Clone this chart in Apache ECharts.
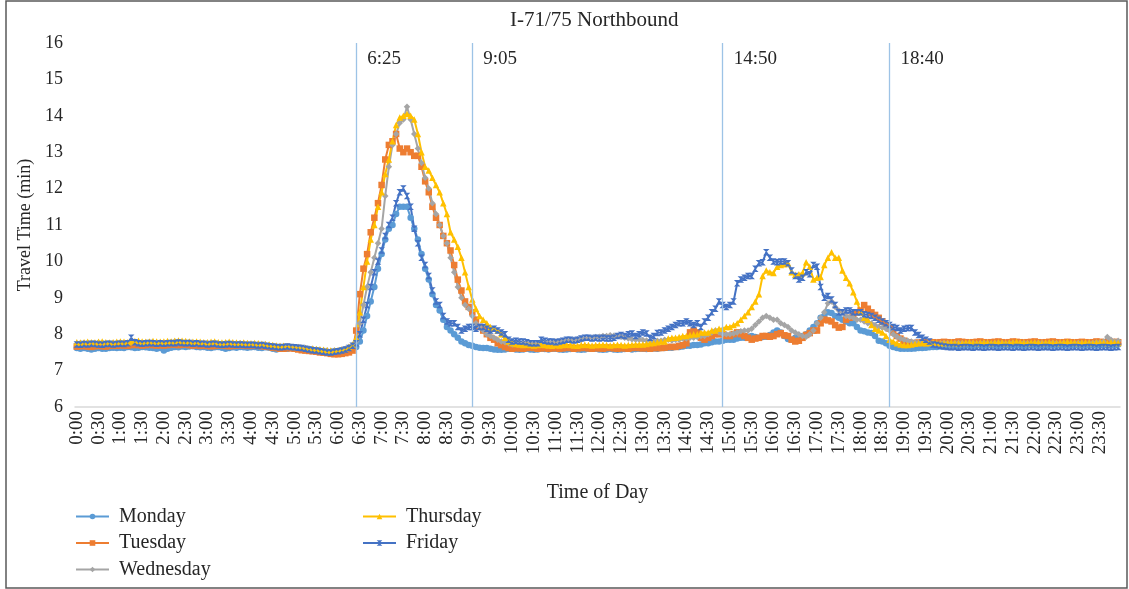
<!DOCTYPE html>
<html>
<head>
<meta charset="utf-8">
<script src="https://cdn.jsdelivr.net/npm/echarts@6/dist/echarts.min.js"></script>
<style>
html, body { margin: 0; padding: 0; background: #fff; }
#main { width: 1129px; height: 589px; }
</style>
</head>
<body>
<div id="main"></div>
<script>
// 5-minute slots, 0:00 .. 23:55
var times = [];
for (var i = 0; i < 288; i++) {
    var m = i * 5;
    times.push(Math.floor(m / 60) + ':' + ('0' + (m % 60)).slice(-2));
}

// travel time (min), one row per hour
var monday = [
    7.62,7.6,7.62,7.6,7.58,7.6,7.62,7.6,7.6,7.62,7.63,7.62,
    7.63,7.62,7.65,7.64,7.62,7.63,7.65,7.64,7.63,7.62,7.6,7.62,
    7.55,7.6,7.63,7.65,7.64,7.66,7.65,7.66,7.67,7.65,7.64,7.65,
    7.63,7.62,7.64,7.65,7.63,7.6,7.62,7.64,7.63,7.65,7.64,7.63,
    7.64,7.65,7.63,7.62,7.64,7.63,7.6,7.58,7.6,7.62,7.6,7.63,
    7.62,7.6,7.58,7.57,7.58,7.56,7.55,7.54,7.52,7.5,7.5,7.52,
    7.53,7.55,7.57,7.6,7.62,7.65,7.8,8.1,8.5,8.9,9.3,9.8,
    10.2,10.6,10.9,11.0,11.3,11.5,11.5,11.5,11.2,10.9,10.6,10.2,
    9.8,9.5,9.1,8.8,8.65,8.4,8.2,8.1,8.0,7.9,7.8,7.75,
    7.7,7.68,7.65,7.63,7.62,7.62,7.6,7.58,7.57,7.57,7.58,7.6,
    7.6,7.58,7.57,7.58,7.6,7.58,7.57,7.58,7.6,7.59,7.58,7.6,
    7.6,7.58,7.57,7.58,7.59,7.6,7.58,7.57,7.58,7.6,7.61,7.6,
    7.58,7.57,7.58,7.6,7.58,7.57,7.58,7.59,7.6,7.58,7.59,7.6,
    7.6,7.59,7.6,7.61,7.6,7.62,7.62,7.63,7.63,7.65,7.65,7.66,
    7.68,7.68,7.7,7.7,7.72,7.75,7.75,7.78,7.8,7.8,7.82,7.85,
    7.85,7.85,7.88,7.9,7.9,7.93,7.95,7.92,7.9,7.92,7.93,7.98,
    8.05,8.1,8.05,7.95,7.87,7.85,7.9,7.93,7.95,8.0,8.1,8.2,
    8.3,8.45,8.5,8.6,8.58,8.5,8.45,8.4,8.35,8.3,8.3,8.2,
    8.1,8.08,8.05,8.03,7.95,7.82,7.8,7.75,7.68,7.65,7.62,7.6,
    7.6,7.6,7.6,7.61,7.62,7.62,7.63,7.64,7.65,7.65,7.66,7.66,
    7.67,7.68,7.68,7.67,7.68,7.7,7.69,7.68,7.7,7.7,7.69,7.7,
    7.7,7.69,7.68,7.7,7.7,7.71,7.7,7.69,7.7,7.68,7.7,7.71,
    7.7,7.69,7.7,7.68,7.7,7.7,7.69,7.7,7.71,7.7,7.69,7.7,
    7.7,7.7,7.69,7.7,7.71,7.7,7.72,7.7,7.73,7.71,7.7,7.72
];
var tuesday = [
    7.66,7.67,7.68,7.66,7.65,7.67,7.68,7.67,7.66,7.68,7.69,7.68,
    7.7,7.69,7.68,7.7,7.71,7.7,7.69,7.7,7.72,7.7,7.69,7.7,
    7.69,7.7,7.72,7.71,7.7,7.71,7.72,7.7,7.69,7.7,7.68,7.69,
    7.68,7.67,7.68,7.69,7.7,7.68,7.67,7.68,7.69,7.7,7.69,7.68,
    7.68,7.69,7.68,7.67,7.66,7.65,7.63,7.62,7.6,7.6,7.62,7.61,
    7.6,7.58,7.56,7.55,7.54,7.53,7.52,7.5,7.49,7.48,7.46,7.45,
    7.45,7.46,7.48,7.5,7.55,8.1,9.1,9.8,10.2,10.8,11.2,11.6,
    12.1,12.8,13.2,13.3,13.5,13.1,13.0,13.1,13.0,12.9,12.9,12.6,
    12.2,11.9,11.5,11.2,11.0,10.7,10.5,10.3,9.9,9.5,9.2,8.9,
    8.75,8.6,8.4,8.2,8.1,8.0,7.9,7.85,7.75,7.7,7.65,7.62,
    7.6,7.62,7.61,7.6,7.62,7.63,7.62,7.6,7.61,7.62,7.6,7.61,
    7.62,7.6,7.61,7.63,7.62,7.6,7.61,7.62,7.63,7.61,7.6,7.62,
    7.61,7.6,7.62,7.63,7.61,7.6,7.62,7.61,7.6,7.62,7.63,7.62,
    7.61,7.62,7.6,7.62,7.62,7.62,7.63,7.65,7.65,7.65,7.68,7.7,
    7.75,8.05,8.1,8.05,7.9,7.85,7.9,7.95,8.0,8.0,8.0,7.95,
    7.95,8.0,8.05,8.0,7.95,7.9,7.85,7.88,7.9,7.95,7.95,7.93,
    7.95,8.0,8.03,7.97,7.95,7.85,7.8,7.82,7.9,7.98,8.03,8.1,
    8.1,8.3,8.4,8.38,8.35,8.25,8.18,8.2,8.4,8.45,8.5,8.6,
    8.65,8.8,8.7,8.6,8.53,8.45,8.35,8.25,8.15,8.05,7.95,7.88,
    7.82,7.78,7.75,7.76,7.77,7.78,7.76,7.77,7.78,7.77,7.78,7.79,
    7.78,7.77,7.78,7.8,7.79,7.78,7.77,7.78,7.79,7.8,7.78,7.77,
    7.78,7.79,7.8,7.78,7.77,7.78,7.8,7.79,7.78,7.77,7.78,7.79,
    7.8,7.78,7.77,7.78,7.79,7.8,7.78,7.77,7.78,7.79,7.78,7.77,
    7.78,7.79,7.78,7.77,7.78,7.8,7.79,7.78,7.77,7.78,7.79,7.78
];
var wednesday = [
    7.74,7.75,7.76,7.75,7.74,7.76,7.77,7.75,7.74,7.76,7.75,7.76,
    7.77,7.76,7.75,7.77,7.78,7.76,7.75,7.77,7.78,7.77,7.76,7.77,
    7.76,7.77,7.78,7.8,7.79,7.78,7.77,7.78,7.76,7.75,7.76,7.75,
    7.74,7.75,7.76,7.74,7.73,7.75,7.74,7.73,7.74,7.75,7.74,7.73,
    7.72,7.73,7.72,7.7,7.71,7.7,7.68,7.67,7.66,7.67,7.66,7.65,
    7.64,7.65,7.63,7.62,7.6,7.6,7.58,7.57,7.56,7.55,7.54,7.55,
    7.55,7.57,7.6,7.65,7.7,7.8,8.3,8.8,9.3,9.7,10.1,10.5,
    10.9,11.8,12.6,13.2,13.5,13.8,13.9,14.25,13.9,13.5,13.1,12.7,
    12.3,12.0,11.6,11.3,11.0,10.7,10.5,10.1,9.7,9.3,9.0,8.8,
    8.7,8.5,8.3,8.2,8.1,8.0,7.95,7.9,7.85,7.8,7.78,7.75,
    7.72,7.73,7.72,7.74,7.75,7.73,7.74,7.75,7.76,7.75,7.77,7.78,
    7.8,7.79,7.82,7.83,7.85,7.84,7.86,7.85,7.88,7.9,7.9,7.92,
    7.93,7.95,7.95,7.97,7.96,7.95,7.93,7.9,7.88,7.86,7.85,7.85,
    7.84,7.83,7.82,7.8,7.82,7.82,7.85,7.85,7.83,7.85,7.85,7.88,
    7.88,7.9,7.9,7.92,7.95,7.95,8.0,8.05,8.1,8.05,8.0,8.0,
    8.0,8.02,8.05,8.08,8.1,8.1,8.15,8.25,8.35,8.45,8.5,8.45,
    8.4,8.4,8.3,8.25,8.2,8.1,8.05,8.0,7.95,7.93,8.0,8.1,
    8.3,8.45,8.6,8.85,8.9,8.75,8.65,8.6,8.5,8.47,8.45,8.4,
    8.4,8.35,8.3,8.3,8.25,8.2,8.18,8.15,8.1,8.0,7.93,7.88,
    7.85,7.82,7.8,7.78,7.77,7.76,7.75,7.76,7.75,7.74,7.75,7.76,
    7.75,7.74,7.75,7.76,7.75,7.74,7.76,7.75,7.74,7.75,7.76,7.75,
    7.74,7.75,7.76,7.75,7.74,7.75,7.76,7.74,7.75,7.76,7.75,7.74,
    7.75,7.76,7.75,7.74,7.75,7.76,7.75,7.74,7.76,7.75,7.74,7.75,
    7.76,7.75,7.74,7.75,7.76,7.77,7.78,7.8,7.92,7.85,7.8,7.82
];
var thursday = [
    7.78,7.77,7.78,7.79,7.78,7.77,7.79,7.8,7.78,7.77,7.78,7.79,
    7.8,7.79,7.78,7.8,7.81,7.82,7.8,7.79,7.8,7.81,7.8,7.79,
    7.8,7.81,7.8,7.82,7.83,7.82,7.81,7.8,7.79,7.8,7.79,7.78,
    7.78,7.79,7.8,7.78,7.77,7.78,7.79,7.78,7.77,7.76,7.77,7.76,
    7.75,7.76,7.75,7.74,7.73,7.72,7.7,7.69,7.68,7.68,7.67,7.66,
    7.65,7.64,7.63,7.62,7.6,7.6,7.59,7.58,7.57,7.56,7.55,7.55,
    7.56,7.58,7.6,7.65,7.72,7.9,8.6,9.3,10.0,10.6,11.0,11.5,
    11.9,12.4,12.8,13.3,13.75,13.95,14.0,14.05,14.0,13.9,13.5,13.0,
    12.6,12.5,12.3,12.1,11.9,11.6,11.3,10.8,10.6,10.4,10.1,9.7,
    9.3,8.95,8.7,8.5,8.4,8.3,8.2,8.15,8.1,8.0,7.9,7.8,
    7.75,7.73,7.72,7.7,7.71,7.7,7.69,7.7,7.71,7.7,7.69,7.68,
    7.7,7.69,7.7,7.71,7.7,7.69,7.68,7.7,7.71,7.7,7.69,7.7,
    7.7,7.71,7.7,7.69,7.7,7.71,7.7,7.69,7.7,7.71,7.72,7.72,
    7.72,7.73,7.75,7.76,7.78,7.8,7.8,7.88,7.9,7.9,7.92,7.95,
    7.95,7.98,8.0,8.0,8.05,8.05,8.05,8.1,8.1,8.15,8.15,8.2,
    8.2,8.25,8.3,8.4,8.5,8.6,8.75,8.9,9.1,9.6,9.75,9.7,
    9.68,9.85,9.9,9.92,9.95,9.7,9.63,9.65,9.68,9.98,9.85,9.5,
    9.55,9.57,9.9,10.1,10.25,10.1,10.1,9.75,9.55,9.4,9.15,8.9,
    8.6,8.45,8.4,8.25,8.15,8.1,8.05,7.95,7.85,7.8,7.75,7.72,
    7.7,7.7,7.72,7.74,7.75,7.76,7.75,7.76,7.77,7.76,7.75,7.76,
    7.76,7.77,7.76,7.75,7.76,7.77,7.78,7.77,7.76,7.77,7.78,7.77,
    7.76,7.77,7.78,7.77,7.76,7.77,7.78,7.79,7.78,7.77,7.76,7.77,
    7.78,7.77,7.76,7.77,7.78,7.77,7.76,7.77,7.78,7.79,7.78,7.77,
    7.76,7.77,7.78,7.77,7.76,7.77,7.78,7.77,7.76,7.78,7.77,7.76
];
var friday = [
    7.72,7.71,7.73,7.72,7.74,7.73,7.72,7.71,7.73,7.74,7.72,7.73,
    7.74,7.73,7.75,7.9,7.78,7.75,7.74,7.75,7.76,7.75,7.74,7.75,
    7.74,7.75,7.76,7.75,7.77,7.76,7.75,7.76,7.74,7.75,7.73,7.74,
    7.72,7.73,7.74,7.72,7.71,7.72,7.73,7.72,7.71,7.72,7.71,7.7,
    7.71,7.7,7.69,7.7,7.68,7.67,7.66,7.65,7.64,7.65,7.66,7.65,
    7.64,7.63,7.62,7.6,7.58,7.56,7.55,7.53,7.52,7.5,7.5,7.52,
    7.53,7.55,7.58,7.62,7.68,7.75,8.0,8.4,8.8,9.3,9.7,10.0,
    10.3,10.7,11.0,11.2,11.6,11.9,12.0,11.8,11.5,10.9,10.5,10.1,
    9.9,9.6,9.2,8.9,8.8,8.5,8.35,8.3,8.3,8.2,8.1,8.15,
    8.2,8.2,8.15,8.2,8.2,8.15,8.1,8.15,8.1,8.05,8.0,7.85,
    7.8,7.82,7.8,7.8,7.78,7.75,7.75,7.75,7.85,7.82,7.8,7.8,
    7.78,7.8,7.82,7.85,7.85,7.83,7.85,7.88,7.9,7.9,7.88,7.9,
    7.88,7.9,7.88,7.88,7.9,7.95,7.98,7.95,8.0,8.02,7.95,8.0,
    8.05,8.02,7.9,7.95,8.03,8.05,8.1,8.15,8.2,8.25,8.3,8.3,
    8.35,8.3,8.25,8.3,8.2,8.35,8.45,8.6,8.7,8.9,8.8,8.75,
    8.8,8.9,9.4,9.5,9.55,9.6,9.6,9.8,9.95,9.98,10.25,10.1,
    10.0,9.98,10.0,10.0,9.95,9.75,9.6,9.5,9.55,9.7,9.65,9.9,
    9.85,9.3,9.0,9.05,8.95,8.8,8.6,8.6,8.65,8.65,8.6,8.6,
    8.6,8.55,8.53,8.5,8.45,8.4,8.35,8.3,8.25,8.2,8.17,8.1,
    8.15,8.17,8.17,8.05,7.98,7.9,7.85,7.8,7.72,7.7,7.68,7.66,
    7.65,7.64,7.65,7.63,7.64,7.65,7.64,7.63,7.65,7.64,7.63,7.64,
    7.65,7.64,7.63,7.64,7.65,7.64,7.63,7.65,7.64,7.63,7.64,7.65,
    7.64,7.63,7.64,7.65,7.64,7.63,7.64,7.65,7.64,7.63,7.64,7.65,
    7.64,7.63,7.64,7.65,7.64,7.63,7.64,7.65,7.64,7.63,7.64,7.65
];

var markTimes = ['6:25', '9:05', '14:50', '18:40'];

var font = 'Liberation Serif';
var txt = '#262626';

function daySeries(name, data, color, symbol, size) {
    return {
        name: name,
        type: 'line',
        data: data,
        symbol: symbol,
        symbolSize: size,
        showAllSymbol: true,
        lineStyle: { width: 2, color: color },
        itemStyle: { color: color },
        emphasis: { disabled: true }
    };
}

var series = [
    daySeries('Monday', monday, '#5B9BD5', 'circle', 6.5),
    daySeries('Tuesday', tuesday, '#ED7D31', 'rect', 6.5),
    daySeries('Wednesday', wednesday, '#A5A5A5', 'diamond', 6.5),
    daySeries('Thursday', thursday, '#FFC000', 'triangle', 6.5),
    daySeries('Friday', friday, '#4472C4', 'path://M0,0L10,0L0,10L10,10Z', 6.5)
];

series[0].markLine = {
    silent: true,
    symbol: 'none',
    animation: false,
    lineStyle: { color: '#9DC3E6', width: 1.3, type: 'solid' },
    label: {
        position: 'end',
        formatter: '{b}',
        color: txt,
        fontFamily: font,
        fontSize: 19,
        align: 'left',
        verticalAlign: 'top',
        offset: [11, 12]
    },
    data: markTimes.map(function(t) { return { name: t, xAxis: t }; })
};

var legendText = { fontFamily: font, fontSize: 20, color: txt, lineHeight: 21, padding: [0, 0, 0, 5] };

var chart = echarts.init(document.getElementById('main'));
chart.setOption({
    animation: false,
    backgroundColor: '#fff',
    title: {
        text: 'I-71/75 Northbound',
        left: 505,
        top: 5,
        textStyle: { fontFamily: font, fontSize: 21, fontWeight: 'normal', color: txt }
    },
    legend: [
        { data: ['Monday', 'Tuesday', 'Wednesday'], orient: 'vertical', left: 75, top: 506, padding: 0,
          itemWidth: 33, itemHeight: 7, itemGap: 5.5, textStyle: legendText },
        { data: ['Thursday', 'Friday'], orient: 'vertical', left: 362, top: 506, padding: 0,
          itemWidth: 33, itemHeight: 7, itemGap: 5.5, textStyle: legendText }
    ],
    grid: { left: 75, right: 9, top: 43, bottom: 182 },
    xAxis: {
        type: 'category',
        data: times,
        boundaryGap: true,
        name: 'Time of Day',
        nameLocation: 'middle',
        nameGap: 76,
        nameTextStyle: { fontFamily: font, fontSize: 20, color: txt },
        axisLine: { lineStyle: { color: '#D9D9D9', width: 1.5 } },
        axisTick: { show: false },
        axisLabel: { interval: 5, rotate: 90, margin: 4, fontFamily: font, fontSize: 19, color: txt }
    },
    yAxis: {
        type: 'value',
        min: 6,
        max: 16,
        interval: 1,
        name: 'Travel Time (min)',
        nameLocation: 'middle',
        nameGap: 40,
        nameTextStyle: { fontFamily: font, fontSize: 18, color: txt },
        axisLine: { show: false },
        axisTick: { show: false },
        splitLine: { show: false },
        axisLabel: { margin: 12, fontFamily: font, fontSize: 18, color: txt }
    },
    graphic: [{
        type: 'rect',
        silent: true,
        shape: { x: 6, y: 1, width: 1121, height: 587 },
        style: { fill: 'none', stroke: '#595959', lineWidth: 1.5 }
    }],
    series: series
});
</script>
</body>
</html>
